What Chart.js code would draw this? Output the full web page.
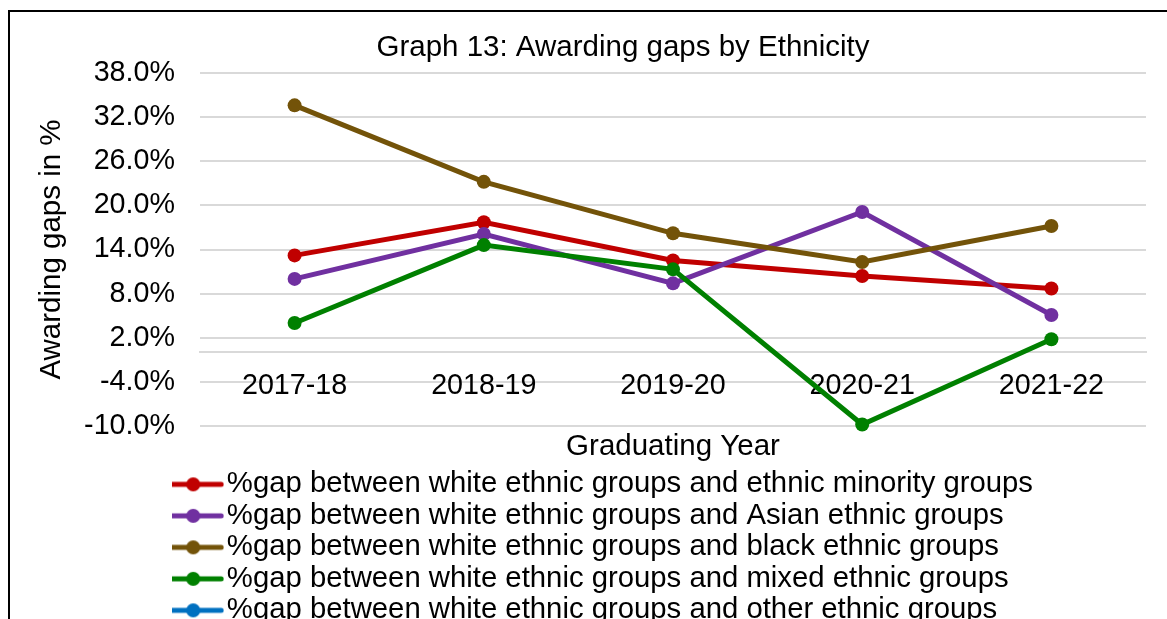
<!DOCTYPE html>
<html>
<head>
<meta charset="utf-8">
<script src="https://cdn.jsdelivr.net/npm/chart.js@4.4.1/dist/chart.umd.min.js"></script>
<style>
html,body{margin:0;padding:0;background:#fff;overflow:hidden;}
#wrap{position:relative;width:1167px;height:619px;overflow:hidden;background:#fff;}
#frame{position:absolute;left:8px;top:10px;width:3000px;height:3000px;border-left:2px solid #000;border-top:2px solid #000;pointer-events:none;}
canvas{position:absolute;left:0;top:0;}
</style>
</head>
<body>
<div id="wrap"><canvas id="c" width="1167" height="635"></canvas><div id="frame"></div></div>
<script>
// ---- data ----
const categories = ['2017-18', '2018-19', '2019-20', '2020-21', '2021-22'];
const minorityGap = [13.2, 17.7, 12.5, 10.4, 8.7];
const asianGap    = [10.0, 16.1, 9.4, 19.1, 5.1];
const blackGap    = [33.6, 23.2, 16.2, 12.3, 17.2];
const mixedGap    = [4.0, 14.6, 11.3, -9.8, 1.8];
const otherGap    = [null, null, null, null, null];
const yTickValues = [-10, -4, 2, 8, 14, 20, 26, 32, 38];
const seriesNames = [
  '%gap between white ethnic groups and ethnic minority groups',
  '%gap between white ethnic groups and Asian ethnic groups',
  '%gap between white ethnic groups and black ethnic groups',
  '%gap between white ethnic groups and mixed ethnic groups',
  '%gap between white ethnic groups and other ethnic groups'
];
const seriesColors = ['#C00000', '#7030A0', '#735309', '#008000', '#0070C0'];
const chartTitle = 'Graph 13: Awarding gaps by Ethnicity';
const xTitle = 'Graduating Year';
const yTitle = 'Awarding gaps in %';

const seriesData = [minorityGap, asianGap, blackGap, mixedGap, otherGap];

Chart.defaults.font.family = "'Liberation Sans', Arial, sans-serif";
Chart.defaults.color = '#000';

function legendMarker(color) {
  const c = document.createElement('canvas');
  c.width = 62; c.height = 16;
  const g = c.getContext('2d');
  g.strokeStyle = color; g.lineWidth = 5; g.lineCap = 'round';
  g.beginPath(); g.moveTo(3, 8); g.lineTo(59, 8); g.stroke();
  g.fillStyle = color;
  g.beginPath(); g.arc(31, 8, 7, 0, Math.PI * 2); g.fill();
  return c;
}
const markers = seriesColors.map(legendMarker);

const boxShift = {
  id: 'boxShift',
  afterLayout(chart) {
    const lg = chart.legend;
    if (lg) { lg.left += 172; lg.right += 172; }
    const tb = chart.titleBlock;
    if (tb) { tb.left += 50; tb.right += 50; }
  }
};

new Chart(document.getElementById('c'), {
  type: 'line',
  data: {
    labels: categories,
    datasets: seriesNames.map((name, i) => ({
      label: name,
      data: seriesData[i],
      borderColor: seriesColors[i],
      backgroundColor: seriesColors[i],
      pointBackgroundColor: seriesColors[i],
      pointBorderColor: seriesColors[i],
      borderWidth: 5,
      pointRadius: 7,
      pointBorderWidth: 0,
      tension: 0,
      clip: false,
      order: 5 - i
    }))
  },
  options: {
    responsive: false,
    animation: false,
    devicePixelRatio: 1,
    layout: { padding: { left: 0, right: 21, top: 0, bottom: 0 } },
    scales: {
      x: {
        type: 'category',
        position: { y: 0 },
        offset: true,
        grid: { display: false, drawTicks: false },
        border: { display: true, color: '#D9D9D9', width: 2 },
        ticks: { font: { size: 28.7 }, color: '#000', padding: 16, maxRotation: 0, autoSkip: false }
      },
      xt: {
        type: 'category',
        axis: 'x',
        position: 'bottom',
        display: true,
        grid: { display: false, drawTicks: false },
        border: { display: false },
        ticks: { display: false },
        title: { display: true, text: xTitle, font: { size: 29.5 }, color: '#000', padding: { top: 3.3, bottom: 2.8 } }
      },
      y: {
        min: -10,
        max: 38,
        afterBuildTicks(s) { s.ticks = yTickValues.map(v => ({ value: v })); },
        afterFit(s) { s.width = 200; },
        grid: { color: '#D9D9D9', lineWidth: 2, drawTicks: false },
        border: { display: false },
        ticks: { font: { size: 28.7 }, color: '#000', padding: 25, callback: v => Number(v).toFixed(1) + '%' },
        title: { display: true, text: yTitle, font: { size: 29.5 }, color: '#000', padding: { top: 34, bottom: 0 } }
      }
    },
    plugins: {
      title: {
        display: true, text: chartTitle, color: '#000',
        font: { size: 29.5, weight: 'normal' },
        padding: { top: 30.3, bottom: 7.3 }
      },
      legend: {
        position: 'bottom',
        align: 'start',
        labels: {
          usePointStyle: true,
          pointStyleWidth: 38,
          font: { size: 29.3 },
          color: '#000',
          padding: 2.2,
          generateLabels(chart) {
            return chart.data.datasets.map((ds, i) => ({
              text: ds.label,
              pointStyle: markers[i],
              fillStyle: ds.borderColor,
              strokeStyle: ds.borderColor,
              lineWidth: 0,
              hidden: false,
              datasetIndex: i,
              fontColor: '#000'
            }));
          }
        }
      },
      tooltip: { enabled: false }
    }
  },
  plugins: [boxShift]
});
</script>
</body>
</html>
